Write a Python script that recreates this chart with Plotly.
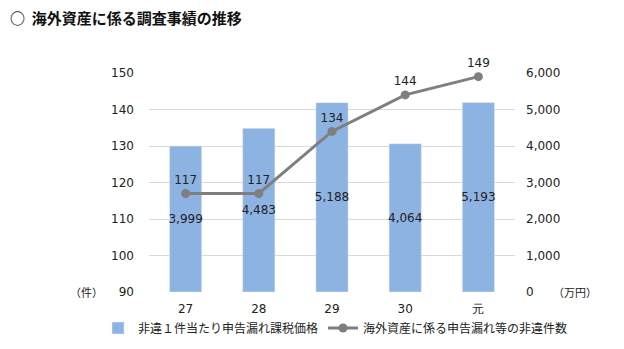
import plotly.graph_objects as go

categories = ["27", "28", "29", "30", "元"]
tax_amount = [3999, 4483, 5188, 4064, 5193]
violations = [117, 117, 134, 144, 149]
bar_name = "非違１件当たり申告漏れ課税価格"
line_name = "海外資産に係る申告漏れ等の非違件数"

JP = "Noto Sans CJK JP"
NUM = "DejaVu Sans"

L, R, T, B = 149, 109, 73, 57
PW, PH = 624 - L - R, 349 - T - B

fig = go.Figure()
fig.add_trace(go.Bar(
    x=categories, y=tax_amount, name=bar_name, yaxis="y",
    marker=dict(color="#8DB3E2"), width=0.44,
    text=[f"{v:,}" for v in tax_amount], textposition="inside",
    insidetextanchor="middle", textangle=0, constraintext="none",
    textfont=dict(family=NUM, size=12, color="#222222"),
))
fig.add_trace(go.Scatter(
    x=categories, y=violations, name=line_name, yaxis="y2",
    mode="lines+markers+text", cliponaxis=False,
    line=dict(color="#7F7F7F", width=3),
    marker=dict(color="#7F7F7F", size=9),
    text=[str(v) for v in violations], textposition="top center",
    textfont=dict(family=NUM, size=12, color="#222222"),
))

fig.update_layout(
    width=624, height=349,
    margin=dict(l=L, r=R, t=T, b=B, autoexpand=False),
    paper_bgcolor="white", plot_bgcolor="white",
    showlegend=True,
    legend=dict(orientation="h", xref="paper", yref="paper",
                x=(98 - L) / PW, xanchor="left",
                y=-(328 - (T + PH)) / PH, yanchor="middle",
                font=dict(family=JP, size=12, color="#222222"),
                traceorder="normal", itemwidth=30, tracegroupgap=0),
    xaxis=dict(type="category", showgrid=False, showline=False, ticks="",
               ticklabelstandoff=8,
               tickfont=dict(family=NUM, size=12, color="#222222")),
    yaxis=dict(side="right", range=[0, 6000], dtick=1000, tickformat=",",
               showgrid=True, gridcolor="#D9D9D9", gridwidth=1,
               zeroline=False, showline=False, ticks="",
               ticklabelstandoff=10,
               tickfont=dict(family=NUM, size=12, color="#222222")),
    yaxis2=dict(side="left", overlaying="y", range=[90, 150], dtick=10,
                showgrid=False, zeroline=False, showline=False, ticks="",
                ticklabelstandoff=14,
                tickfont=dict(family=NUM, size=12, color="#222222")),
    annotations=[
        dict(text="<b>○  海外資産に係る調査事績の推移</b>",
             x=(8 - L) / PW, y=1 + (T - 17) / PH,
             xref="paper", yref="paper",
             showarrow=False, xanchor="left", yanchor="middle",
             font=dict(family=JP, size=15, color="#111111")),
        dict(text="（件）", x=0, y=0, xref="paper", yref="paper", showarrow=False,
             xanchor="right", yanchor="middle", xshift=-44,
             font=dict(family=JP, size=11, color="#222222")),
        dict(text="（万円）", x=1, y=0, xref="paper", yref="paper", showarrow=False,
             xanchor="left", yanchor="middle", xshift=36,
             font=dict(family=JP, size=11, color="#222222")),
    ],
)

fig.write_html("out.html")
